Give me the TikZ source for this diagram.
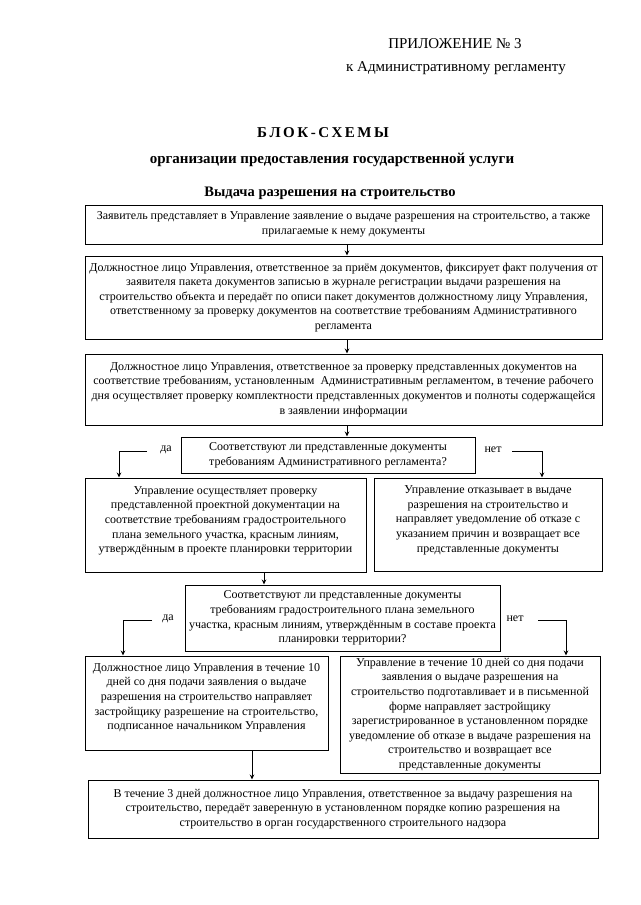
\documentclass[tikz,border=0pt]{standalone}
\usepackage{fontspec}
\setmainfont{Liberation Serif}
\usetikzlibrary{positioning, arrows.meta, calc}

\begin{document}
\begin{tikzpicture}[
    x=1pt, y=-1pt,
    line width=1pt,
    box/.style={draw, rectangle, align=center, inner sep=2pt, font=\fontsize{12}{14.6}\selectfont},
    decision/.style={draw, rectangle, align=center, inner sep=2pt, font=\fontsize{12}{14.6}\selectfont},
    heading/.style={font=\fontsize{15}{17}\selectfont},
    branch/.style={font=\fontsize{12}{14}\selectfont},
    arr/.style={-{Stealth[length=5pt, width=4.5pt]}}
]
    \useasboundingbox (0,0) rectangle (640,905);

    % Heading
    \node[heading] (app) at (455,44) {ПРИЛОЖЕНИЕ № 3};
    \node[heading] (reg) at (456,68) {к Административному регламенту};
    \node[heading, font=\fontsize{15}{17}\selectfont\bfseries] (ttl) at (323,133) {Б\,Л\,О\,К\,-\,С\,Х\,Е\,М\,Ы};
    \node[heading, font=\fontsize{15}{17}\selectfont\bfseries] (sub) at (332,160) {организации предоставления государственной услуги};
    \node[heading, font=\fontsize{14.5}{17}\selectfont\bfseries] (sub2) at (330,193) {Выдача разрешения на строительство};

    % Main steps
    \node[box, minimum width=517, minimum height=39] (b1) at (343.5,224.5) {Заявитель представляет в Управление заявление о выдаче разрешения на строительство, а также\\ прилагаемые к нему документы};
    \node[box, minimum width=517, minimum height=83] (b2) at (343.5,297.5) {Должностное лицо Управления, ответственное за приём документов, фиксирует факт получения от\\ заявителя пакета документов записью в журнале регистрации выдачи разрешения на\\ строительство объекта и передаёт по описи пакет документов должностному лицу Управления,\\ ответственному за проверку документов на соответствие требованиям Административного\\ регламента};
    \node[box, minimum width=517, minimum height=71] (b3) at (343.5,389.5) {Должностное лицо Управления, ответственное за проверку представленных документов на\\ соответствие требованиям, установленным~ Административным регламентом, в течение рабочего\\ дня осуществляет проверку комплектности представленных документов и полноты содержащейся\\ в заявлении информации};

    % First check
    \node[decision, minimum width=294, minimum height=36] (q1) at (328,455) {Соответствуют ли представленные документы\\ требованиям Административного регламента?};
    \node[box, minimum width=281, minimum height=94, text depth=11] (b4) at (225.5,525) {Управление осуществляет проверку\\ представленной проектной документации на\\ соответствие требованиям градостроительного\\ плана земельного участка, красным линиям,\\ утверждённым в проекте планировки территории};
    \node[box, minimum width=228, minimum height=93, text depth=11] (b5) at (488,524.5) {Управление отказывает в выдаче\\ разрешения на строительство и\\ направляет уведомление об отказе с\\ указанием причин и возвращает все\\ представленные документы};

    % Second check
    \node[decision, minimum width=315, minimum height=66] (q2) at (342.5,618) {Соответствуют ли представленные документы\\ требованиям градостроительного плана земельного\\ участка, красным линиям, утверждённым в составе проекта\\ планировки территории?};
    \node[box, minimum width=243, minimum height=94, text depth=13] (b6) at (206.5,703) {Должностное лицо Управления в течение 10\\ дней со дня подачи заявления о выдаче\\ разрешения на строительство направляет\\ застройщику разрешение на строительство,\\ подписанное начальником Управления};
    \node[box, minimum width=260, minimum height=117] (b7) at (470,714.5) {Управление в течение 10 дней со дня подачи\\ заявления о выдаче разрешения на\\ строительство подготавливает и в письменной\\ форме направляет застройщику\\ зарегистрированное в установленном порядке\\ уведомление об отказе в выдаче разрешения на\\ строительство и возвращает все\\ представленные документы};
    \node[box, minimum width=510, minimum height=58] (b8) at (343,809) {В течение 3 дней должностное лицо Управления, ответственное за выдачу разрешения на\\ строительство, передаёт заверенную в установленном порядке копию разрешения на\\ строительство в орган государственного строительного надзора};

    % Branch labels
    \node[branch] (da1) at (166,450) {да};
    \node[branch] (net1) at (493,450) {нет};
    \node[branch] (da2) at (168,619) {да};
    \node[branch] (net2) at (515,619) {нет};
    \coordinate (da1e) at (147,451);
    \coordinate (net1e) at (512,451);
    \coordinate (da2e) at (152,620);
    \coordinate (net2e) at (538,620);
    \coordinate (mid) at (347,0);

    % Connections
    \draw[arr] (b1.south -| mid) -- (b2.north -| mid);
    \draw[arr] (b2.south -| mid) -- (b3.north -| mid);
    \draw[arr] (b3.south -| mid) -- (q1.north -| mid);

    \draw[arr] (da1e) -| (b4.north -| 119,0);
    \draw[arr] (net1e) -| (b5.north -| 542,0);
    \draw[arr] (b4.south -| 264,0) -- (q2.north -| 264,0);

    \draw[arr] (da2e) -| (b6.north -| 123,0);
    \draw[arr] (net2e) -| (b7.north -| 566,0);
    \draw[arr] (b6.south -| 252,0) -- (b8.north -| 252,0);

\end{tikzpicture}
\end{document}
